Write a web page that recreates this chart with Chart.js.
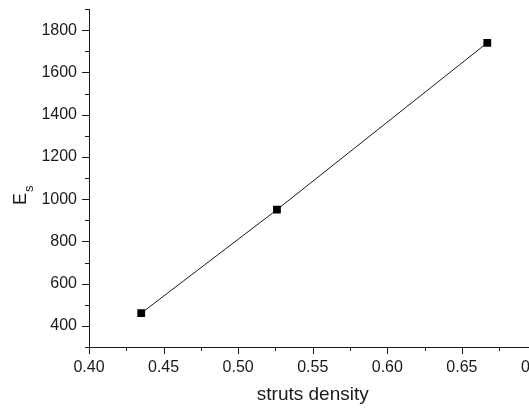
<!DOCTYPE html>
<html>
<head>
<meta charset="utf-8">
<title>E_s vs struts density</title>
<script src="https://cdn.jsdelivr.net/npm/chart.js@4/dist/chart.umd.min.js"></script>
<style>
  html, body { margin: 0; padding: 0; background: #fff; overflow: hidden; }
  #wrap { width: 542px; height: 410px; }
</style>
</head>
<body>
<div id="wrap"><canvas id="chart" width="542" height="410"></canvas></div>
<script>
// measured points: struts density against modulus E_s
var density = [0.435, 0.526, 0.667];
var modulus = [460, 950, 1740];

// axis ranges and tick spacing
var xRange = [0.40, 0.70];
var yRange = [300, 1900];
var xMajorStep = 0.05, xMinorStep = 0.025;
var yMajorStep = 200, yMinorStep = 100;

var FONT = '"Liberation Sans", Arial, sans-serif';
var INK = '#1a1a1a';

function isMajor(value, step) {
    var r = value / step;
    return Math.abs(r - Math.round(r)) < 1e-6;
}

// outward tick marks: long on labelled values, short in between
var tickMarks = {
    id: 'tickMarks',
    afterDraw: function(chart) {
        var ctx = chart.ctx;
        var xs = chart.scales.x, ys = chart.scales.y;
        ctx.save();
        ctx.strokeStyle = INK;
        ctx.lineWidth = 1;
        ctx.beginPath();
        xs.ticks.forEach(function(t) {
            var px = Math.round(xs.getPixelForValue(t.value)) + 0.5;
            var len = isMajor(t.value, xMajorStep) ? 7 : 4;
            ctx.moveTo(px, xs.top);
            ctx.lineTo(px, xs.top + len);
        });
        ys.ticks.forEach(function(t) {
            var py = Math.round(ys.getPixelForValue(t.value)) + 0.5;
            var len = isMajor(t.value, yMajorStep) ? 7 : 4;
            ctx.moveTo(ys.right, py);
            ctx.lineTo(ys.right - len, py);
        });
        ctx.stroke();
        ctx.restore();
    }
};

// rotated y title with subscript: E_s
var yTitle = {
    id: 'yTitle',
    afterDraw: function(chart) {
        var ctx = chart.ctx;
        ctx.save();
        ctx.translate(26, 205);
        ctx.rotate(-Math.PI / 2);
        ctx.fillStyle = INK;
        ctx.textBaseline = 'alphabetic';
        ctx.font = '18px ' + FONT;
        ctx.fillText('E', 0, 0);
        var w = ctx.measureText('E').width;
        ctx.font = '13px ' + FONT;
        ctx.fillText('s', w + 1, 7);
        ctx.restore();
    }
};

new Chart(document.getElementById('chart'), {
    type: 'scatter',
    data: {
        datasets: [{
            data: density.map(function(d, i) {
                return { x: d, y: modulus[i] };
            }),
            showLine: true,
            borderColor: INK,
            borderWidth: 1,
            pointStyle: 'rect',
            pointRadius: 5.5,
            pointHoverRadius: 5.5,
            pointBorderWidth: 0,
            pointBackgroundColor: '#000'
        }]
    },
    options: {
        responsive: false,
        animation: false,
        layout: { padding: { top: 9, left: 0, right: 0, bottom: 0 } },
        plugins: {
            legend: { display: false },
            tooltip: { enabled: false }
        },
        scales: {
            x: {
                type: 'linear',
                min: xRange[0],
                max: xRange[1],
                grid: { display: false, drawTicks: false },
                border: { display: true, color: INK, width: 1 },
                ticks: {
                    stepSize: xMinorStep,
                    autoSkip: false,
                    maxRotation: 0,
                    padding: 11,
                    color: INK,
                    font: { family: FONT, size: 16 },
                    callback: function(v) {
                        return isMajor(v, xMajorStep) ? v.toFixed(2) : '';
                    }
                },
                title: {
                    display: true,
                    text: 'struts density',
                    color: INK,
                    font: { family: FONT, size: 19 },
                    padding: { top: 4, bottom: 4 }
                },
                afterFit: function(scale) {
                    scale.height = 63;
                    scale.paddingLeft = 0;
                    scale.paddingRight = 0;
                }
            },
            y: {
                type: 'linear',
                min: yRange[0],
                max: yRange[1],
                grid: { display: false, drawTicks: false },
                border: { display: true, color: INK, width: 1 },
                ticks: {
                    stepSize: yMinorStep,
                    autoSkip: false,
                    padding: 12,
                    color: INK,
                    font: { family: FONT, size: 16 },
                    callback: function(v) {
                        return isMajor(v, yMajorStep) ? String(v) : '';
                    }
                },
                afterFit: function(scale) {
                    scale.width = 89;
                    scale.paddingTop = 0;
                    scale.paddingBottom = 0;
                }
            }
        }
    },
    plugins: [tickMarks, yTitle]
});
</script>
</body>
</html>
